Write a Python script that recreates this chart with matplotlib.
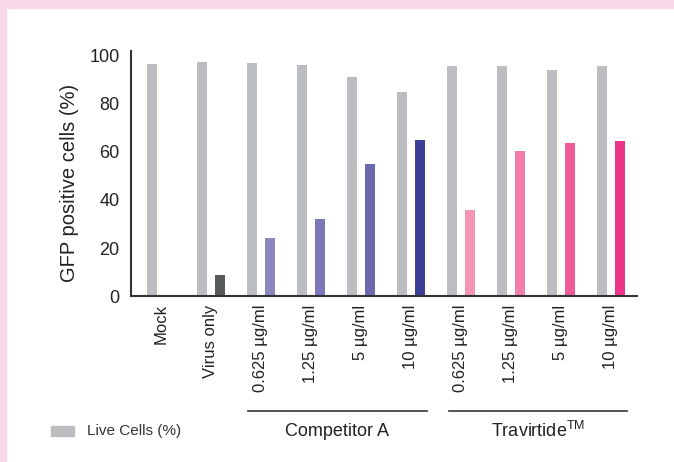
import matplotlib.pyplot as plt
from matplotlib.patches import Rectangle
from matplotlib.transforms import blended_transform_factory
import numpy as np

plt.rcParams["font.family"] = ["Liberation Sans", "DejaVu Sans"]
plt.rcParams["mathtext.fontset"] = "custom"
plt.rcParams["mathtext.rm"] = "Liberation Sans"

# Data
categories = ["Mock", "Virus only", "0.625 µg/ml", "1.25 µg/ml", "5 µg/ml",
              "10 µg/ml", "0.625 µg/ml", "1.25 µg/ml", "5 µg/ml", "10 µg/ml"]
live_cells = [96.5, 97.5, 97, 96.2, 91.2, 85, 95.8, 95.8, 94.2, 95.8]
gfp_cells = [0, 8.7, 24.2, 32.1, 55, 65, 35.8, 60.4, 63.7, 64.6]
gfp_colors = ["#FFFFFF", "#58595B", "#8C86C1", "#7B75B9", "#6D67AF",
              "#3D3F97", "#F495B6", "#F27FA9", "#EF5B97", "#EC3489"]
groups = ["Competitor A", r"Travirtide$^{\mathrm{TM}}$"]
group_spans = [(1.74, 5.32), (5.76, 9.32)]

fig = plt.figure(figsize=(6.74, 4.62), dpi=100)
ax = fig.add_axes([0.194, 0.359, 0.751, 0.531])

x = np.arange(len(categories))
ax.bar(x - 0.18, live_cells, width=0.2, color="#BCBDC1")
ax.bar(x[1:] + 0.18, gfp_cells[1:], width=0.2, color=gfp_colors[1:])

ax.set_xlim(-0.6, 9.52)
ax.set_ylim(0, 102)
ax.set_yticks([0, 20, 40, 60, 80, 100])
ax.tick_params(axis="y", length=0, labelsize=13, pad=8, labelcolor="#222222")
ax.set_xticks(x)
ax.set_xticklabels(categories, rotation=90, fontsize=12, color="#222222")
ax.tick_params(axis="x", length=0, pad=6)
ax.set_ylabel("GFP positive cells (%)", fontsize=14.5, color="#222222")
ax.yaxis.set_label_coords(-0.103, 0.46)

for side in ["top", "right"]:
    ax.spines[side].set_visible(False)
for side in ["left", "bottom"]:
    ax.spines[side].set_color("#333333")
    ax.spines[side].set_linewidth(1.5)

# Group brackets below the tick labels
trans = blended_transform_factory(ax.transData, ax.transAxes)
for name, (x0, x1) in zip(groups, group_spans):
    ax.plot([x0, x1], [-0.469, -0.469], color="#333333", lw=1.2,
            transform=trans, clip_on=False)
    ax.text((x0 + x1) / 2, -0.55, name, transform=trans, ha="center",
            va="center", fontsize=13, color="#222222")

# Legend
fig.patches.append(Rectangle((51 / 674, 1 - 436 / 462), 23 / 674, 10 / 462,
                             transform=fig.transFigure, color="#BCBDC1"))
fig.text(87 / 674, 1 - 431 / 462, "Live Cells (%)", fontsize=11,
         color="#333333", va="center")

# Pink frame
fig.patches.append(Rectangle((0, 1 - 8 / 462), 1, 8 / 462,
                             transform=fig.transFigure, color="#F8D9E8"))
fig.patches.append(Rectangle((0, 0), 6 / 674, 1,
                             transform=fig.transFigure, color="#F8D9E8"))

fig.savefig("out.png", dpi=100)
